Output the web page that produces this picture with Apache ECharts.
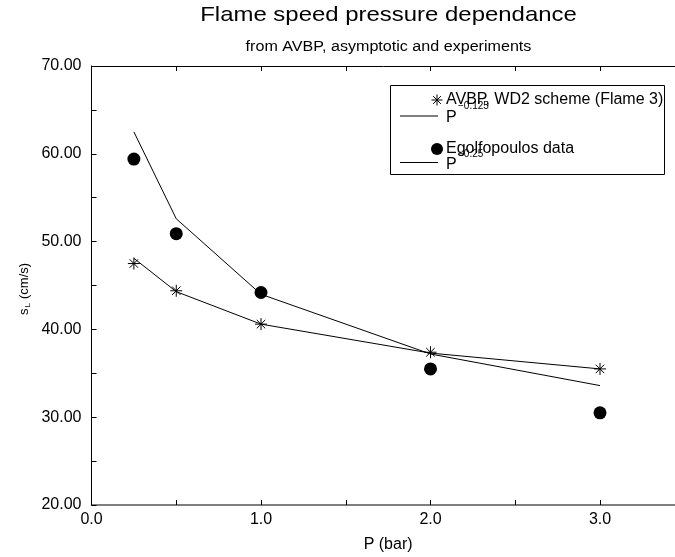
<!DOCTYPE html>
<html>
<head>
<meta charset="utf-8">
<script src="https://cdn.jsdelivr.net/npm/echarts@6/dist/echarts.min.js"></script>
<style>
html,body{margin:0;padding:0;background:#fff;}
#chart{width:675px;height:557px;}
</style>
</head>
<body>
<div id="chart"></div>
<script>
// ---- data ----
const pressure = [0.25, 0.5, 1.0, 2.0, 3.0];
const avbp     = [47.5, 44.4, 40.6, 37.4, 35.5];   // AVBP, WD2 scheme (Flame 3)
const fit0125  = [48.1, 44.3, 40.6, 37.3, 35.5];   // P^-0.125
const egolf    = [59.4, 50.9, 44.2, 35.5, 30.5];   // Egolfopoulos data
const fit025   = [62.5, 52.6, 44.0, 37.2, 33.6];   // P^-0.25
const xTicks = ['0.0', '1.0', '2.0', '3.0'];
const yTicks = ['20.00', '30.00', '40.00', '50.00', '60.00', '70.00'];

const FONT = '"Liberation Sans", Arial, Helvetica, sans-serif';
const pairs = (xs, ys) => xs.map((x, i) => [x, ys[i]]);
const STAR = 'path://M6,0L6,12M0,6L12,6M1.76,1.76L10.24,10.24M1.76,10.24L10.24,1.76';

const chart = echarts.init(document.getElementById('chart'), null, {renderer: 'canvas'});

const axisTextStyle = {color: '#000', fontFamily: FONT, fontSize: 16};

function starLines(cx, cy, r) {
  const d = r * 0.707;
  const segs = [[0, -r, 0, r], [-r, 0, r, 0], [-d, -d, d, d], [-d, d, d, -d]];
  return segs.map(s => ({
    type: 'line', shape: {x1: cx + s[0], y1: cy + s[1], x2: cx + s[2], y2: cy + s[3]},
    style: {stroke: '#000', lineWidth: 1}, z: 101
  }));
}

const option = {
  animation: false,
  backgroundColor: '#fff',
  grid: {left: 91.5, top: 66, width: 593.25, height: 439, containLabel: false, outerBoundsMode: 'none'},
  xAxis: [{
    type: 'value', min: 0, max: 3.5, interval: 0.5,
    axisLine: {show: true, onZero: false, lineStyle: {color: '#555', width: 1.5}},
    axisTick: {show: true, inside: true, length: 5, lineStyle: {color: '#000', width: 1}},
    axisLabel: {
      margin: 7, ...axisTextStyle,
      formatter: v => { const i = xTicks.indexOf(v.toFixed(1)); return (Number.isInteger(v) && i >= 0) ? xTicks[i] : ''; }
    },
    splitLine: {show: false},
    name: 'P (bar)', nameLocation: 'middle', nameGap: 32,
    nameTextStyle: {color: '#000', fontFamily: FONT, fontSize: 16}
  }, {
    type: 'value', position: 'top', min: 0, max: 3.5, interval: 0.5,
    axisLine: {show: true, onZero: false, lineStyle: {color: '#000', width: 1}},
    axisTick: {show: true, inside: true, length: 5, lineStyle: {color: '#000', width: 1}},
    axisLabel: {show: false}, splitLine: {show: false}
  }],
  yAxis: [{
    type: 'value', min: 20, max: 70, interval: 5,
    axisLine: {show: true, onZero: false, lineStyle: {color: '#000', width: 1}},
    axisTick: {show: true, inside: true, length: 5, lineStyle: {color: '#000', width: 1}},
    axisLabel: {
      margin: 10, ...axisTextStyle,
      formatter: v => { const s = v.toFixed(2); return yTicks.indexOf(s) >= 0 ? s : ''; }
    },
    splitLine: {show: false}
  }],
  series: [
    {
      name: 'AVBP, WD2 scheme (Flame 3)', type: 'scatter', data: pairs(pressure, avbp),
      symbol: STAR, symbolSize: 12,
      itemStyle: {color: '#000', borderColor: '#000', borderWidth: 1, opacity: 1}, z: 5
    },
    {
      name: 'P^-0.125', type: 'line', data: pairs(pressure, fit0125),
      showSymbol: false, lineStyle: {color: '#000', width: 1}, z: 4
    },
    {
      name: 'Egolfopoulos data', type: 'scatter', data: pairs(pressure, egolf),
      symbol: 'circle', symbolSize: 13, itemStyle: {color: '#000', opacity: 1}, z: 5
    },
    {
      name: 'P^-0.25', type: 'line', data: pairs(pressure, fit025),
      showSymbol: false, lineStyle: {color: '#000', width: 1}, z: 4
    }
  ],
  graphic: [
    // title & subtitle
    {type: 'text', x: 388.5, y: 15, scaleX: 1.14, z: 100,
     style: {text: 'Flame speed pressure dependance', font: '21px ' + FONT, fill: '#000', textAlign: 'center', textVerticalAlign: 'middle'}},
    {type: 'text', x: 388.5, y: 47, scaleX: 1.15, z: 100,
     style: {text: 'from AVBP, asymptotic and experiments', font: '14px ' + FONT, fill: '#000', textAlign: 'center', textVerticalAlign: 'middle'}},
    // y axis name (rotated, with subscript)
    {type: 'group', x: 24, y: 286, rotation: Math.PI / 2, z: 100, children: [
      {type: 'text', x: -29, y: 0, style: {text: 's', font: '13px ' + FONT, fill: '#000', textAlign: 'left', textVerticalAlign: 'middle'}},
      {type: 'text', x: -21.5, y: 4, style: {text: 'L', font: '8px ' + FONT, fill: '#000', textAlign: 'left', textVerticalAlign: 'middle'}},
      {type: 'text', x: -13, y: 0, style: {text: '(cm/s)', font: '13px ' + FONT, fill: '#000', textAlign: 'left', textVerticalAlign: 'middle'}}
    ]},
    // legend box
    {type: 'rect', shape: {x: 390.5, y: 85.5, width: 274, height: 89}, z: 100,
     style: {fill: '#fff', stroke: '#000', lineWidth: 1}},
    ...starLines(437, 100, 5.5),
    {type: 'text', x: 446, y: 100, z: 101,
     style: {text: 'AVBP, WD2 scheme (Flame 3)', font: '16px ' + FONT, fill: '#000', textAlign: 'left', textVerticalAlign: 'middle'}},
    {type: 'line', shape: {x1: 400, y1: 116, x2: 438, y2: 116}, z: 101, style: {stroke: '#000', lineWidth: 1}},
    {type: 'text', x: 446, y: 118, z: 101,
     style: {text: 'P', font: '16px ' + FONT, fill: '#000', textAlign: 'left', textVerticalAlign: 'middle'}},
    {type: 'text', x: 458, y: 106, z: 101,
     style: {text: '\u22120.125', font: '10px ' + FONT, fill: '#000', textAlign: 'left', textVerticalAlign: 'middle'}},
    {type: 'circle', shape: {cx: 437, cy: 149, r: 6}, z: 101, style: {fill: '#000'}},
    {type: 'text', x: 446, y: 149, z: 101,
     style: {text: 'Egolfopoulos data', font: '16px ' + FONT, fill: '#000', textAlign: 'left', textVerticalAlign: 'middle'}},
    {type: 'line', shape: {x1: 400, y1: 162.5, x2: 438, y2: 162.5}, z: 101, style: {stroke: '#000', lineWidth: 1}},
    {type: 'text', x: 446, y: 165, z: 101,
     style: {text: 'P', font: '16px ' + FONT, fill: '#000', textAlign: 'left', textVerticalAlign: 'middle'}},
    {type: 'text', x: 458, y: 154, z: 101,
     style: {text: '\u22120.25', font: '10px ' + FONT, fill: '#000', textAlign: 'left', textVerticalAlign: 'middle'}}
  ]
};
chart.setOption(option);
</script>
</body>
</html>
